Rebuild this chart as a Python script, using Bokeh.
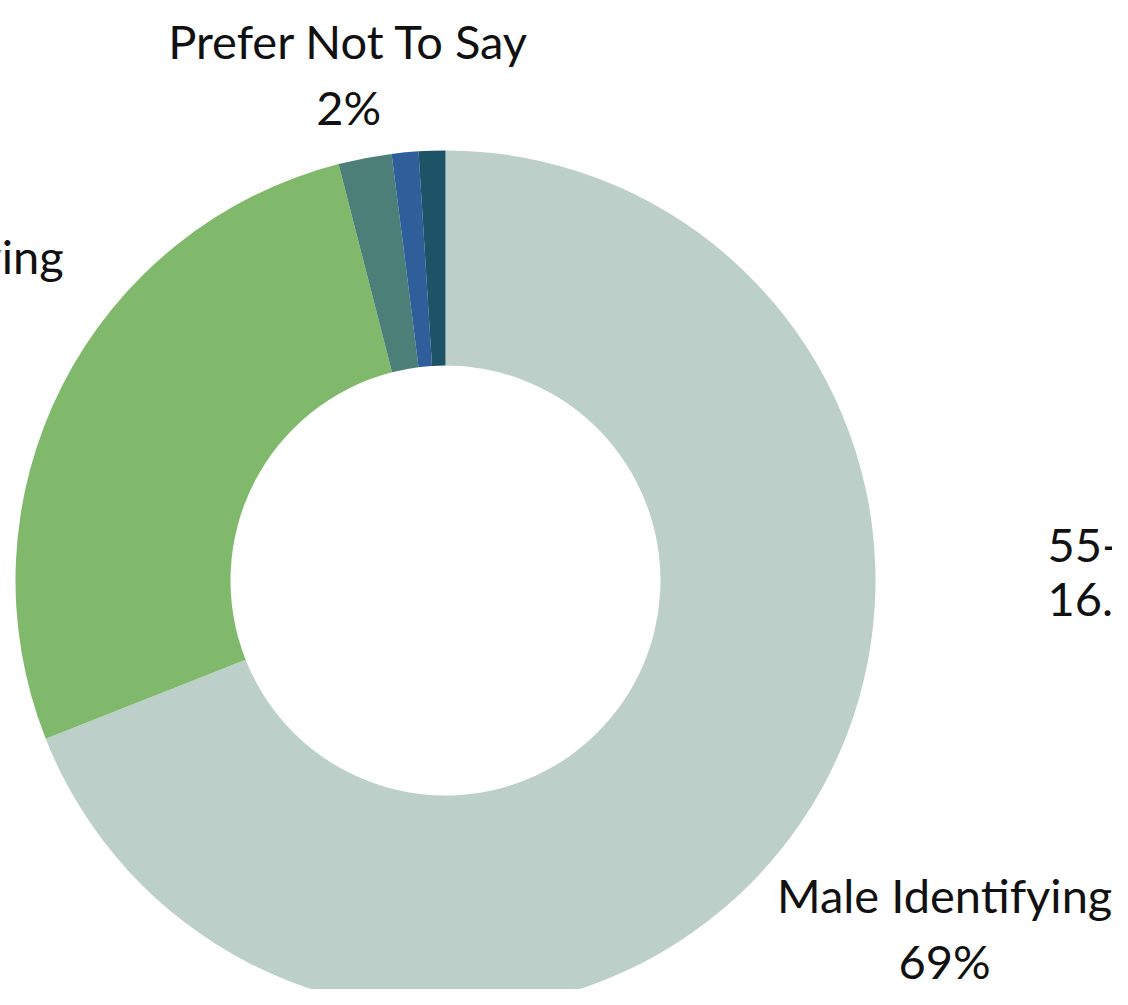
import math
from bokeh.plotting import figure
from bokeh.models import Range1d, ColumnDataSource
from bokeh.core.properties import value
from bokeh.embed import file_html
from bokeh.resources import INLINE

# ---- data ----
categories = ["Male Identifying", "Female Identifying", "Prefer Not To Say", "Non-Binary", "Other"]
values = [69, 27, 2, 1, 1]
colors = ["#bccfc9", "#80b96c", "#4c7f78", "#2e5f9a", "#1c5367"]
shown_labels = ["Male Identifying", "Female Identifying", "Prefer Not To Say"]
stray_texts = ["55-64", "16.8%"]

# ---- layout ----
W, H = 1112, 989
CX, CY = 445, -580
R_OUT, R_IN = 430, 215
label_radius = {"Male Identifying": 618, "Female Identifying": 642, "Prefer Not To Say": 516}
label_nudge_x = {"Male Identifying": -12, "Female Identifying": 0, "Prefer Not To Say": 0}
FONT = "Lato"
FS = "47px"
HALF_GAP = 33

p = figure(width=W, height=H, output_backend="svg", toolbar_location=None,
           x_range=Range1d(0, W), y_range=Range1d(-H, 0),
           x_axis_location=None, y_axis_location=None, min_border=0,
           tools="")
p.grid.visible = False
p.outline_line_color = None
p.background_fill_color = "white"
p.border_fill_color = "white"

total = float(sum(values))
starts, ends, mids = [], [], []
cum = 0.0
for v in values:
    a0 = math.pi / 2 - 2 * math.pi * cum / total
    cum += v
    a1 = math.pi / 2 - 2 * math.pi * cum / total
    starts.append(a0)
    ends.append(a1)
    mids.append((a0 + a1) / 2)

src = ColumnDataSource(dict(x=[CX] * len(values), y=[CY] * len(values),
                            start=starts, end=ends, color=colors))
p.annular_wedge(x="x", y="y", inner_radius=R_IN, outer_radius=R_OUT,
                start_angle="start", end_angle="end", direction="clock",
                fill_color="color", line_color=None, source=src)

lx, ly1, ly2, t1, t2 = [], [], [], [], []
for name, v, m in zip(categories, values, mids):
    if name not in shown_labels:
        continue
    r = label_radius[name]
    px = CX + r * math.cos(m) + label_nudge_x[name]
    py = CY + r * math.sin(m)
    lx.append(px)
    ly1.append(py + HALF_GAP)
    ly2.append(py - HALF_GAP)
    t1.append(name)
    t2.append(f"{v}%")

p.text(x=lx, y=ly1, text=t1, text_font=value(FONT), text_font_size=FS,
       text_align="center", text_baseline="middle", text_color="#111111")
p.text(x=lx, y=ly2, text=t2, text_font=value(FONT), text_font_size=FS,
       text_align="center", text_baseline="middle", text_color="#111111")

# stray labels of a neighbouring chart, clipped at right edge
p.text(x=[1047, 1047], y=[-545, -597], text=stray_texts, text_font=value(FONT),
       text_font_size=FS, text_align="left", text_baseline="middle",
       text_color="#111111")

open("out.html", "w").write(file_html(p, INLINE))
